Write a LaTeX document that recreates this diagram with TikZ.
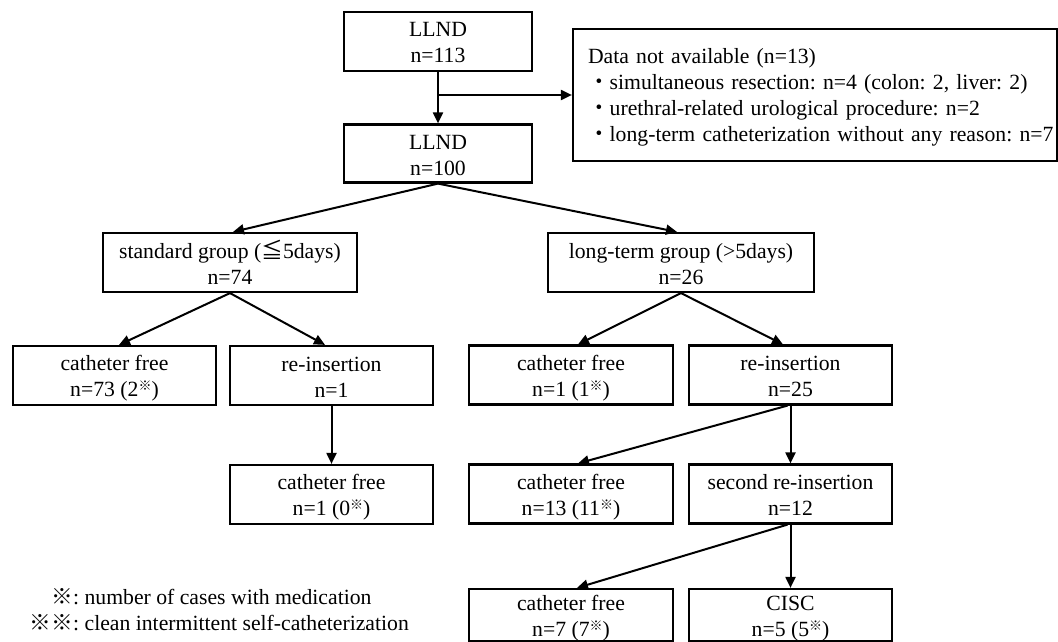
\documentclass[tikz,border=0pt]{standalone}
\usepackage{fontspec}
\setmainfont{Liberation Serif}
\newfontfamily\cjk{Noto Sans CJK JP}
\usetikzlibrary{arrows.meta}
\frenchspacing
\newcommand\ksup{\raisebox{6pt}{\fontsize{13pt}{13pt}\selectfont\cjk ※}}
\newcommand\tls{\rule{0pt}{21pt}}
\newcommand\bls{\rule[-4pt]{0pt}{4pt}}
\newcommand\twol[2]{\tls#1\\#2\bls}
\tikzset{
  box/.style={draw, line width=2.2pt, align=center, inner sep=0pt, minimum height=59pt},
  arr/.style={line width=2pt, -{Triangle[length=11pt,width=10pt]}},
  every node/.style={font=\fontsize{21.7pt}{26pt}\selectfont}
}
\begin{document}
\begin{tikzpicture}[x=1pt,y=-1pt]
\useasboundingbox (0,0) rectangle (1058,642);
\fill[white] (0,0) rectangle (1058,642);

\node[box, minimum width=188pt] (top) at (438,41.5) {\twol{LLND}{n=113}};
\node[box, minimum width=188pt, minimum height=58pt] (n100) at (438,153.5) {\twol{LLND}{n=100}};
\node[box, minimum height=132pt, text width=484pt, align=left] (data) at (815,95)
  {\mbox{\rule{0pt}{19pt}\hspace*{15pt}Data not available (n=13)}\\
   \mbox{\hspace*{15pt}{\cjk ・}simultaneous resection: n=4 (colon: 2, liver: 2)}\\
   \mbox{\hspace*{15pt}{\cjk ・}urethral-related urological procedure: n=2}\\
   \mbox{\hspace*{15pt}{\cjk ・}long-term catheterization without any reason: n=7}};

\node[box, minimum width=254pt] (std) at (230,262.5) {\twol{standard group ({\cjk ≦}5days)}{n=74}};
\node[box, minimum width=266pt] (long) at (681,262.5) {\twol{long-term group (>5days)}{n=26}};

\node[box, minimum width=203pt] (cfA) at (114.5,375.5) {\twol{catheter free}{n=73 (2\ksup)}};
\node[box, minimum width=203pt] (riA) at (331.5,375.5) {\twol{re-insertion}{n=1}};
\node[box, minimum width=203pt] (cfA2) at (331.5,494.5) {\twol{catheter free}{n=1 (0\ksup)}};

\node[box, minimum width=204pt] (cfB) at (571,375) {\twol{catheter free}{n=1 (1\ksup)}};
\node[box, minimum width=203pt] (riB) at (790.5,375) {\twol{re-insertion}{n=25}};
\node[box, minimum width=204pt] (cfC) at (571,494) {\twol{catheter free}{n=13 (11\ksup)}};
\node[box, minimum width=203pt] (sri) at (790.5,494) {\twol{second re-insertion}{n=12}};
\node[box, minimum width=204pt, minimum height=52pt] (cfD) at (571,615) {\twol{catheter free}{n=7 (7\ksup)}};
\node[box, minimum width=203pt, minimum height=52pt] (cisc) at (790.5,615) {\twol{CISC}{n=5 (5\ksup)}};

\node[anchor=west, inner sep=0pt, align=left] (legend) at (29.6,609.5)
  {\makebox[43.4pt][r]{\cjk ※}: number of cases with medication\\
   \makebox[43.4pt][r]{\cjk ※※}: clean intermittent self-catheterization};

\draw[arr] (top.south) -- (n100.north);
\draw[arr] (top.south |- data.west) -- (data.west);
\draw[arr] (n100.south) -- ([xshift=3pt]std.north);
\draw[arr] (n100.south) -- ([xshift=-4pt]long.north);
\draw[arr] (std.south) -- ([xshift=4.5pt]cfA.north);
\draw[arr] (std.south) -- ([xshift=-6.5pt]riA.north);
\draw[arr] (riA.south) -- (cfA2.north);
\draw[arr] (long.south) -- ([xshift=7pt]cfB.north);
\draw[arr] (long.south) -- ([xshift=-7.5pt]riB.north);
\draw[arr] ([xshift=-3pt]riB.south) -- ([xshift=7pt]cfC.north);
\draw[arr] (riB.south) -- (sri.north);
\draw[arr] ([xshift=-3pt]sri.south) -- ([xshift=6pt]cfD.north);
\draw[arr] (sri.south) -- (cisc.north);
\end{tikzpicture}
\end{document}
